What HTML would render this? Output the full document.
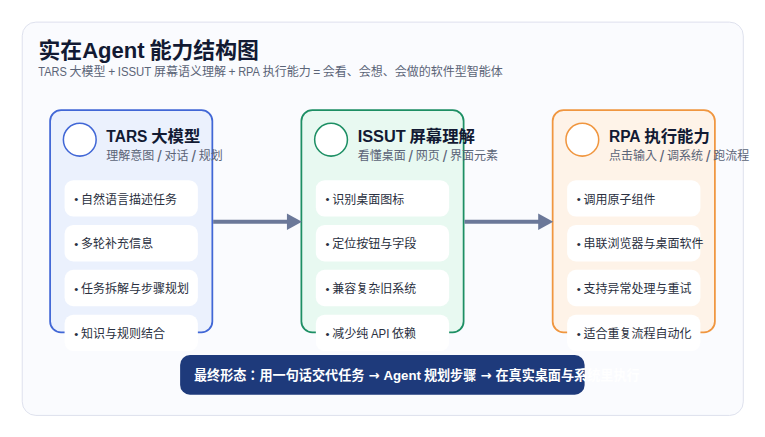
<!DOCTYPE html>
<html>
<head>
<meta charset="utf-8">
<title>实在Agent 能力结构图</title>
<style>
html,body{margin:0;padding:0;background:#ffffff;}
body{width:765px;height:437px;overflow:hidden;}
svg{display:block;}
svg text{font-family:"Liberation Sans", "Noto Sans CJK JP", sans-serif;}
.t1{font-size:40px;font-weight:700;fill:#121a33;}
.t2{font-size:22px;fill:#5b6477;}
.ct{font-size:30px;font-weight:700;fill:#121a33;}
.cs{font-size:22px;fill:#5b6477;}
.it{font-size:22px;fill:#2a3040;}
.bt{font-size:24px;font-weight:700;fill:#ffffff;}
.bu{font-size:21px;}
.sl{font-size:29px;}
svg text .ar{font-family:"DejaVu Sans","Liberation Sans",sans-serif;}
</style>
</head>
<body>
<svg width="765" height="437" viewBox="0 0 1400 800">
<rect x="0" y="0" width="1400" height="800" fill="#ffffff"/>
<rect x="40.5" y="40.5" width="1320" height="720" rx="25" ry="25" fill="#fafbfe" stroke="#dde0ed" stroke-width="1.8"/>
<rect x="91.5" y="201.5" width="297" height="407" rx="20" ry="20" fill="#ebf1fd" stroke="#4167d6" stroke-width="3.2"/>
<circle cx="145.8" cy="255.8" r="30" fill="#ffffff" stroke="#4167d6" stroke-width="2.8"/>
<rect x="118" y="330" width="244" height="66.5" rx="16" ry="16" fill="#ffffff"/>
<rect x="118" y="412" width="244" height="66.5" rx="16" ry="16" fill="#ffffff"/>
<rect x="118" y="494" width="244" height="66.5" rx="16" ry="16" fill="#ffffff"/>
<rect x="118" y="576" width="244" height="66.5" rx="16" ry="16" fill="#ffffff"/>
<rect x="551.5" y="201.5" width="297" height="407" rx="20" ry="20" fill="#e8f9f1" stroke="#1d8f64" stroke-width="3.2"/>
<circle cx="605.8" cy="255.8" r="30" fill="#ffffff" stroke="#1d8f64" stroke-width="2.8"/>
<rect x="578" y="330" width="244" height="66.5" rx="16" ry="16" fill="#ffffff"/>
<rect x="578" y="412" width="244" height="66.5" rx="16" ry="16" fill="#ffffff"/>
<rect x="578" y="494" width="244" height="66.5" rx="16" ry="16" fill="#ffffff"/>
<rect x="578" y="576" width="244" height="66.5" rx="16" ry="16" fill="#ffffff"/>
<rect x="1011.5" y="201.5" width="297" height="407" rx="20" ry="20" fill="#fef3e8" stroke="#f0963f" stroke-width="3.2"/>
<circle cx="1065.8" cy="255.8" r="30" fill="#ffffff" stroke="#f0963f" stroke-width="2.8"/>
<rect x="1038" y="330" width="244" height="66.5" rx="16" ry="16" fill="#ffffff"/>
<rect x="1038" y="412" width="244" height="66.5" rx="16" ry="16" fill="#ffffff"/>
<rect x="1038" y="494" width="244" height="66.5" rx="16" ry="16" fill="#ffffff"/>
<rect x="1038" y="576" width="244" height="66.5" rx="16" ry="16" fill="#ffffff"/>
<line x1="390" y1="406" x2="528" y2="406" stroke="#6b7899" stroke-width="7.5"/>
<polygon points="552.5,406 525,391 525,421" fill="#6b7899"/>
<line x1="850" y1="406" x2="988" y2="406" stroke="#6b7899" stroke-width="7.5"/>
<polygon points="1012.5,406 985,391 985,421" fill="#6b7899"/>
<rect x="329.5" y="650" width="740.5" height="72.6" rx="18" ry="18" fill="#1e3a7b"/>
<text class="t1" y="106.5"><tspan x="70.2">实在</tspan><tspan x="150.2" textLength="114.5" lengthAdjust="spacingAndGlyphs">Agent</tspan> <tspan x="273.8">能力结构图</tspan></text>
<text class="t2" y="139.5"><tspan x="70.0" textLength="52.3" lengthAdjust="spacingAndGlyphs">TARS</tspan> <tspan x="127.2">大模型</tspan> <tspan x="197.9">+</tspan> <tspan x="215.3" textLength="61.4" lengthAdjust="spacingAndGlyphs">ISSUT</tspan> <tspan x="281.6">屏幕语义理解</tspan> <tspan x="418.2">+</tspan> <tspan x="435.7" textLength="40.0" lengthAdjust="spacingAndGlyphs">RPA</tspan> <tspan x="480.7">执行能力</tspan> <tspan x="573.3">=</tspan> <tspan x="590.7">会看、会想、会做的软件型智能体</tspan></text>
<text class="ct" y="259.4"><tspan x="194.5" textLength="75.3" lengthAdjust="spacingAndGlyphs">TARS</tspan> <tspan x="276.6">大模型</tspan></text>
<text class="cs" y="293.2"><tspan x="194.5">理解意图</tspan> <tspan class="sl" x="287.7" dy="3.4">/</tspan> <tspan x="301.0" dy="-3.4">对话</tspan> <tspan class="sl" x="350.2" dy="3.4">/</tspan> <tspan x="363.5" dy="-3.4">规划</tspan></text>
<text class="it" y="372.8"><tspan class="bu" x="135.7" dy="-0.5">•</tspan> <tspan x="148.0" dy="0.5">自然语言描述任务</tspan></text>
<text class="it" y="454.8"><tspan class="bu" x="135.7" dy="-0.5">•</tspan> <tspan x="148.0" dy="0.5">多轮补充信息</tspan></text>
<text class="it" y="536.8"><tspan class="bu" x="135.7" dy="-0.5">•</tspan> <tspan x="148.0" dy="0.5">任务拆解与步骤规划</tspan></text>
<text class="it" y="618.8"><tspan class="bu" x="135.7" dy="-0.5">•</tspan> <tspan x="148.0" dy="0.5">知识与规则结合</tspan></text>
<text class="ct" y="259.4"><tspan x="654.5" textLength="88.0" lengthAdjust="spacingAndGlyphs">ISSUT</tspan> <tspan x="749.3">屏幕理解</tspan></text>
<text class="cs" y="293.2"><tspan x="654.5">看懂桌面</tspan> <tspan class="sl" x="747.7" dy="3.4">/</tspan> <tspan x="761.0" dy="-3.4">网页</tspan> <tspan class="sl" x="810.2" dy="3.4">/</tspan> <tspan x="823.5" dy="-3.4">界面元素</tspan></text>
<text class="it" y="372.8"><tspan class="bu" x="595.7" dy="-0.5">•</tspan> <tspan x="608.0" dy="0.5">识别桌面图标</tspan></text>
<text class="it" y="454.8"><tspan class="bu" x="595.7" dy="-0.5">•</tspan> <tspan x="608.0" dy="0.5">定位按钮与字段</tspan></text>
<text class="it" y="536.8"><tspan class="bu" x="595.7" dy="-0.5">•</tspan> <tspan x="608.0" dy="0.5">兼容复杂旧系统</tspan></text>
<text class="it" y="618.8"><tspan class="bu" x="595.7" dy="-0.5">•</tspan> <tspan x="608.0" dy="0.5">减少纯</tspan> <tspan x="678.9" textLength="33.7" lengthAdjust="spacingAndGlyphs">API</tspan> <tspan x="717.6">依赖</tspan></text>
<text class="ct" y="259.4"><tspan x="1114.5" textLength="58.0" lengthAdjust="spacingAndGlyphs">RPA</tspan> <tspan x="1179.3">执行能力</tspan></text>
<text class="cs" y="293.2"><tspan x="1114.5">点击输入</tspan> <tspan class="sl" x="1207.7" dy="3.4">/</tspan> <tspan x="1221.0" dy="-3.4">调系统</tspan> <tspan class="sl" x="1292.2" dy="3.4">/</tspan> <tspan x="1305.5" dy="-3.4">跑流程</tspan></text>
<text class="it" y="372.8"><tspan class="bu" x="1055.7" dy="-0.5">•</tspan> <tspan x="1068.0" dy="0.5">调用原子组件</tspan></text>
<text class="it" y="454.8"><tspan class="bu" x="1055.7" dy="-0.5">•</tspan> <tspan x="1068.0" dy="0.5">串联浏览器与桌面软件</tspan></text>
<text class="it" y="536.8"><tspan class="bu" x="1055.7" dy="-0.5">•</tspan> <tspan x="1068.0" dy="0.5">支持异常处理与重试</tspan></text>
<text class="it" y="618.8"><tspan class="bu" x="1055.7" dy="-0.5">•</tspan> <tspan x="1068.0" dy="0.5">适合重复流程自动化</tspan></text>
<text class="bt" y="695.8"><tspan x="354.8">最终形态：用一句话交代任务</tspan> <tspan class="ar" x="674.2">→</tspan> <tspan x="701.7" textLength="68.7" lengthAdjust="spacingAndGlyphs">Agent</tspan> <tspan x="775.8">规划步骤</tspan> <tspan class="ar" x="879.2">→</tspan> <tspan x="906.7">在真实桌面与系统里执行</tspan></text>
</svg>
</body>
</html>
